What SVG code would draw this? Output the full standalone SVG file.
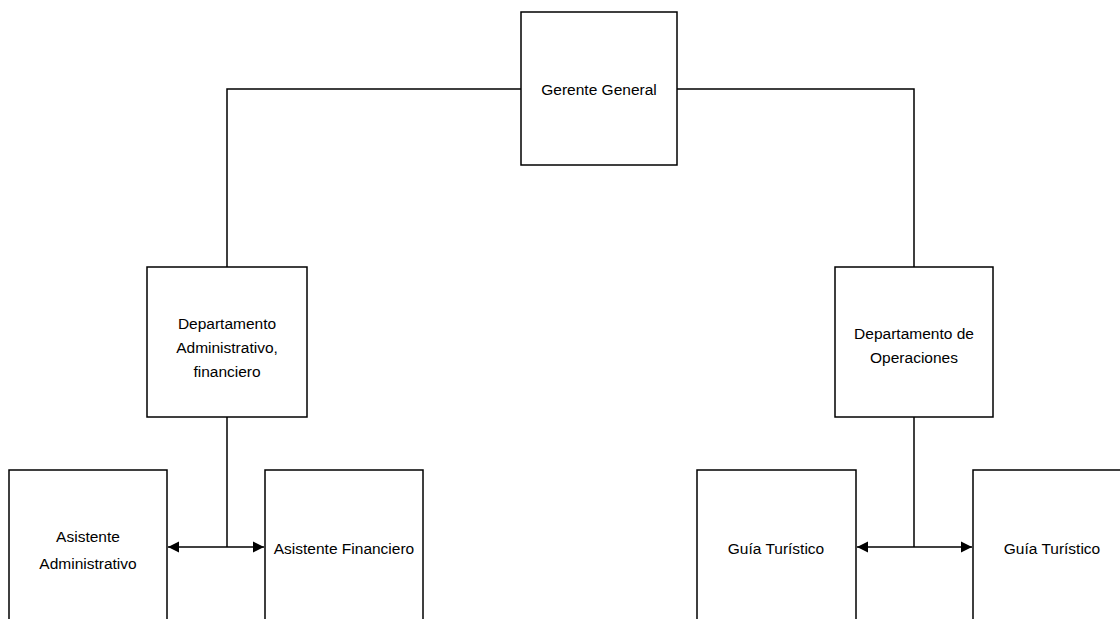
<svg xmlns="http://www.w3.org/2000/svg" width="1120" height="619" viewBox="0 0 1120 619">
<style>
.box{fill:#fff;stroke:#000;stroke-width:1.5}
.ln{fill:none;stroke:#000;stroke-width:1.5}
text{font-family:"Liberation Sans",Arial,sans-serif;font-size:15.5px;fill:#000;text-anchor:middle;dominant-baseline:central}
</style>
<defs>
<marker id="ah" viewBox="0 0 10 10" refX="10" refY="5" markerWidth="11" markerHeight="12" markerUnits="userSpaceOnUse" orient="auto">
<path d="M0,0 L10,5 L0,10 Z" fill="#000"/>
</marker>
</defs>
<rect width="1120" height="619" fill="#fff"/>
<g id="connectors">
<path class="ln" d="M521,89 H227 V267"/>
<path class="ln" d="M677,89 H914 V267"/>
<path class="ln" d="M227,417 V547"/>
<path class="ln" d="M227,547 H168" marker-end="url(#ah)"/>
<path class="ln" d="M227,547 H264" marker-end="url(#ah)"/>
<path class="ln" d="M914,417 V547"/>
<path class="ln" d="M914,547 H857" marker-end="url(#ah)"/>
<path class="ln" d="M914,547 H972" marker-end="url(#ah)"/>
</g>
<g id="gerente">
<rect class="box" x="521" y="12" width="156" height="153"/>
<text x="599" y="89">Gerente General</text>
</g>
<g id="dept-admin">
<rect class="box" x="147" y="267" width="160" height="150"/>
<text x="227" y="323">Departamento</text>
<text x="227" y="347">Administrativo,</text>
<text x="227" y="371">financiero</text>
</g>
<g id="dept-oper">
<rect class="box" x="835" y="267" width="158" height="150"/>
<text x="914" y="333">Departamento de</text>
<text x="914" y="357">Operaciones</text>
</g>
<g id="asist-admin">
<rect class="box" x="9" y="470" width="158" height="160"/>
<text x="88" y="536">Asistente</text>
<text x="88" y="563">Administrativo</text>
</g>
<g id="asist-fin">
<rect class="box" x="265" y="470" width="158" height="160"/>
<text x="344" y="548">Asistente Financiero</text>
</g>
<g id="guia1">
<rect class="box" x="697" y="470" width="159" height="160"/>
<text x="776" y="548">Guía Turístico</text>
</g>
<g id="guia2">
<rect class="box" x="973" y="470" width="158" height="160"/>
<text x="1052" y="548">Guía Turístico</text>
</g>
</svg>
